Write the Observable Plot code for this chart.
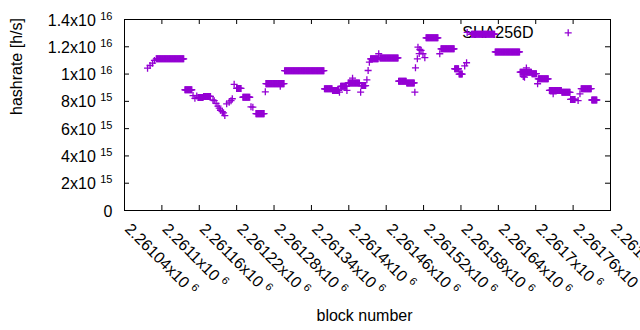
<!DOCTYPE html>
<html>
<head>
<meta charset="utf-8">
<script src="https://cdn.jsdelivr.net/npm/d3@7"></script>
<script src="https://cdn.jsdelivr.net/npm/@observablehq/plot@0.6"></script>
<style>
  html, body { margin: 0; padding: 0; background: white; }
  #chart { width: 640px; height: 330px; overflow: hidden; }
</style>
</head>
<body>
<div id="chart"></div>
<script>
// ---- data ----
// runs of identical estimates: first block, last block, hashrate [h/s]
const runStart = [2261077,2261081,2261085,2261088,2261091,2261137,2261150,2261153,2261156,2261158,2261167,
  2261182,2261184,2261187,2261190,2261192,2261194,2261197,2261199,2261201,2261204,2261208,2261211,2261213,
  2261216,2261220,2261230,2261243,2261246,2261251,2261266,2261267,2261290,2261297,2261361,2261374,2261385,
  2261387,2261397,2261399,2261406,2261419,2261420,2261429,2261431,2261433,2261435,2261448,2261450,2261480,
  2261493,2261506,2261507,2261510,2261511,2261513,2261514,2261516,2261519,2261522,2261524,2261546,2261548,
  2261570,2261577,2261586,2261589,2261590,2261597,2261635,2261675,2261680,2261682,2261685,2261694,2261703,
  2261704,2261722,2261728,2261742,2261756,2261768,2261771,2261773,2261790];
const runEnd = [2261077,2261081,2261085,2261088,2261135,2261148,2261150,2261153,2261156,2261166,2261178,
  2261182,2261184,2261187,2261190,2261192,2261194,2261197,2261199,2261201,2261204,2261208,2261211,2261213,
  2261216,2261227,2261241,2261243,2261246,2261264,2261266,2261296,2261290,2261360,2261373,2261384,2261385,
  2261396,2261397,2261417,2261406,2261419,2261427,2261429,2261431,2261433,2261447,2261448,2261479,2261492,
  2261505,2261506,2261507,2261510,2261511,2261513,2261514,2261516,2261519,2261522,2261543,2261546,2261569,
  2261576,2261582,2261586,2261589,2261590,2261634,2261674,2261693,2261680,2261682,2261685,2261701,2261703,
  2261720,2261741,2261728,2261755,2261763,2261768,2261771,2261789,2261798];
const runValue = [10.43e15,10.63e15,10.8e15,11.0e15,11.12e15,8.85e15,8.42e15,8.22e15,8.4e15,8.28e15,8.36e15,
  8.1e15,8.05e15,7.85e15,7.65e15,7.5e15,7.35e15,7.25e15,7.15e15,6.96e15,7.82e15,7.94e15,8.05e15,8.19e15,
  9.25e15,8.95e15,8.3e15,7.6e15,7.57e15,7.1e15,8.7e15,9.3e15,9.1e15,10.25e15,8.92e15,8.8e15,8.67e15,
  9.1e15,8.8e15,9.35e15,9.7e15,8.67e15,9.16e15,9.58e15,10.26e15,10.87e15,11.12e15,11.49e15,11.18e15,9.48e15,
  9.35e15,8.67e15,10.46e15,11.12e15,11.97e15,11.5e15,11.8e15,11.73e15,11.49e15,11.2e15,12.66e15,11.49e15,11.85e15,
  10.39e15,10.0e15,10.6e15,10.83e15,13.05e15,12.92e15,11.62e15,10.14e15,9.82e15,9.77e15,10.45e15,10.03e15,9.29e15,
  9.65e15,8.8e15,8.55e15,8.66e15,8.14e15,8.06e15,8.55e15,8.93e15,8.1e15];

const xTicks = [2261040,2261100,2261160,2261220,2261280,2261340,2261400,2261460,2261520,2261580,2261640,2261700,2261760,2261820];
const yTicks = [0,2e15,4e15,6e15,8e15,1e16,1.2e16,1.4e16];
const seriesName = "SHA256D";
const xTitle = "block number";
const yTitle = "hashrate [h/s]";

// one point per block inside each run
const points = [];
runStart.forEach((s, i) => {
  for (let b = s; b <= runEnd[i]; b++) points.push({block: b, hashrate: runValue[i]});
});

const fmtX = v => `${+(v / 1e6).toFixed(5)}x10^6`;
const fmtY = v => {
  if (v === 0) return "0";
  const e = Math.floor(Math.log10(v) + 1e-9);
  const m = +(v / 10 ** e).toFixed(2);
  return `${m}x10^${e}`;
};

const purple = "#9400d3";
const font = "'Liberation Sans', Arial, sans-serif";

const chart = Plot.plot({
  width: 640,
  height: 330,
  marginLeft: 124,
  marginRight: 30,
  marginTop: 19,
  marginBottom: 120,
  style: {fontFamily: font, fontSize: "16px", color: "black", background: "white", overflow: "visible"},
  x: {domain: [2261040, 2261820], axis: null},
  y: {domain: [0, 1.4e16], axis: null},
  marks: [
    // inward ticks on all four sides
    Plot.tickX(xTicks, {x: d => d, insetTop: 186, stroke: "black"}),
    Plot.tickX(xTicks, {x: d => d, insetBottom: 186, stroke: "black"}),
    Plot.tickY(yTicks, {y: d => d, insetRight: 481, stroke: "black"}),
    Plot.tickY(yTicks, {y: d => d, insetLeft: 481, stroke: "black"}),
    // tick labels
    Plot.text(xTicks, {x: d => d, text: fmtX, frameAnchor: "bottom", dy: 19.5, dx: -0.5, rotate: 45,
      textAnchor: "start", lineAnchor: "bottom", fontSize: 16, fill: "black"}),
    Plot.text(yTicks, {y: d => d, text: fmtY, frameAnchor: "left", dx: -12, dy: 1,
      textAnchor: "end", lineAnchor: "middle", fontSize: 16, fill: "black"}),
    // legend text (under data)
    Plot.text([seriesName], {x: null, y: null, text: d => d, frameAnchor: "top-right", dx: -77, dy: 18.5,
      textAnchor: "end", lineAnchor: "bottom", fontSize: 16, fill: "black"}),
    // data
    Plot.dot(points, {x: "block", y: "hashrate", symbol: "plus", r: 2.4, stroke: purple, strokeWidth: 1.3}),
    // legend sample
    Plot.dot([seriesName], {x: null, y: null, frameAnchor: "top-right", dx: -42.3, dy: 13.3,
      symbol: "plus", r: 2.4, stroke: purple, strokeWidth: 1.3}),
    // axis titles
    Plot.text([yTitle], {x: null, y: null, text: d => d, frameAnchor: "left", dx: -103, rotate: -90,
      lineAnchor: "bottom", fontSize: 16, fill: "black"}),
    Plot.text([xTitle], {x: null, y: null, text: d => d, frameAnchor: "bottom", dx: -3, dy: 110,
      lineAnchor: "bottom", fontSize: 16, fill: "black"}),
    Plot.frame({stroke: "black", strokeWidth: 1})
  ]
});

// turn "…x10^e" into a real superscript
const NS = "http://www.w3.org/2000/svg";
chart.querySelectorAll("text").forEach(t => {
  const s = t.textContent;
  const i = s.indexOf("^");
  if (i < 0) return;
  t.textContent = "";
  const base = document.createElementNS(NS, "tspan");
  base.textContent = s.slice(0, i) + " ";
  const sup = document.createElementNS(NS, "tspan");
  sup.textContent = s.slice(i + 1);
  sup.setAttribute("dy", "-6");
  sup.setAttribute("font-size", "11");
  t.append(base, sup);
});

document.getElementById("chart").append(chart);
</script>
</body>
</html>
